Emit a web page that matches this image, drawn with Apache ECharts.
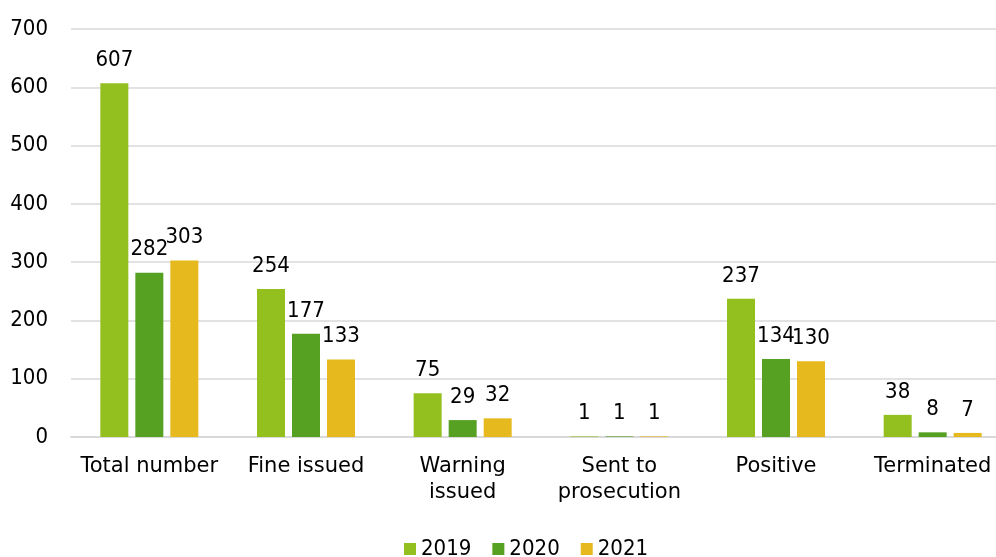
<!DOCTYPE html>
<html>
<head>
    <meta charset="utf-8">
    <title>Inspections</title>
    <script src="https://cdn.jsdelivr.net/npm/echarts@6/dist/echarts.min.js"></script>
    <style>
        html, body { margin: 0; padding: 0; background: #ffffff; }
        #chart { width: 996px; height: 557px; }
    </style>
</head>
<body>
<div id="chart"></div>
<script>
var categories = ['Total number', 'Fine issued', 'Warning\nissued', 'Sent to\nprosecution', 'Positive', 'Terminated'];
var years = ['2019', '2020', '2021'];
var values2019 = [607, 254, 75, 1, 237, 38];
var values2020 = [282, 177, 29, 1, 134, 8];
var values2021 = [303, 133, 32, 1, 130, 7];
var colors = ['#93c01f', '#56a022', '#e6b91e'];

var font = 'DejaVu Sans';
var numFont = 'DejaVu Sans Condensed';
var chart = echarts.init(document.getElementById('chart'));

function makeSeries(name, data, color) {
    return {
        name: name,
        type: 'bar',
        data: data,
        barWidth: 28,
        barGap: '25%',
        itemStyle: {color: color},
        label: {
            show: true,
            position: 'top',
            distance: 12,
            color: '#000',
            fontFamily: numFont,
            fontSize: 22
        }
    };
}

var option = {
    animation: false,
    textStyle: {fontFamily: font},
    // the plot runs a little past the right edge of the picture
    grid: {left: 71, top: 29, width: 940, height: 408, outerBoundsMode: 'none', containLabel: false},
    legend: {
        top: 533,
        left: 399,
        itemWidth: 12,
        itemHeight: 12,
        itemGap: 21,
        icon: 'rect',
        textStyle: {fontSize: 22, color: '#000', fontFamily: numFont},
        data: years
    },
    xAxis: {
        type: 'category',
        data: categories,
        axisTick: {show: false},
        axisLine: {lineStyle: {color: '#d9d9d9', width: 2}},
        axisLabel: {color: '#000', fontSize: 21, fontFamily: font, margin: 17, lineHeight: 26, interval: 0}
    },
    yAxis: {
        type: 'value',
        min: 0,
        max: 700,
        interval: 100,
        axisLine: {show: false},
        axisTick: {show: false},
        splitLine: {lineStyle: {color: '#d9d9d9', width: 1.5}},
        axisLabel: {color: '#000', fontSize: 22, fontFamily: numFont, margin: 23}
    },
    series: [
        makeSeries(years[0], values2019, colors[0]),
        makeSeries(years[1], values2020, colors[1]),
        makeSeries(years[2], values2021, colors[2])
    ]
};
chart.setOption(option);
</script>
</body>
</html>
